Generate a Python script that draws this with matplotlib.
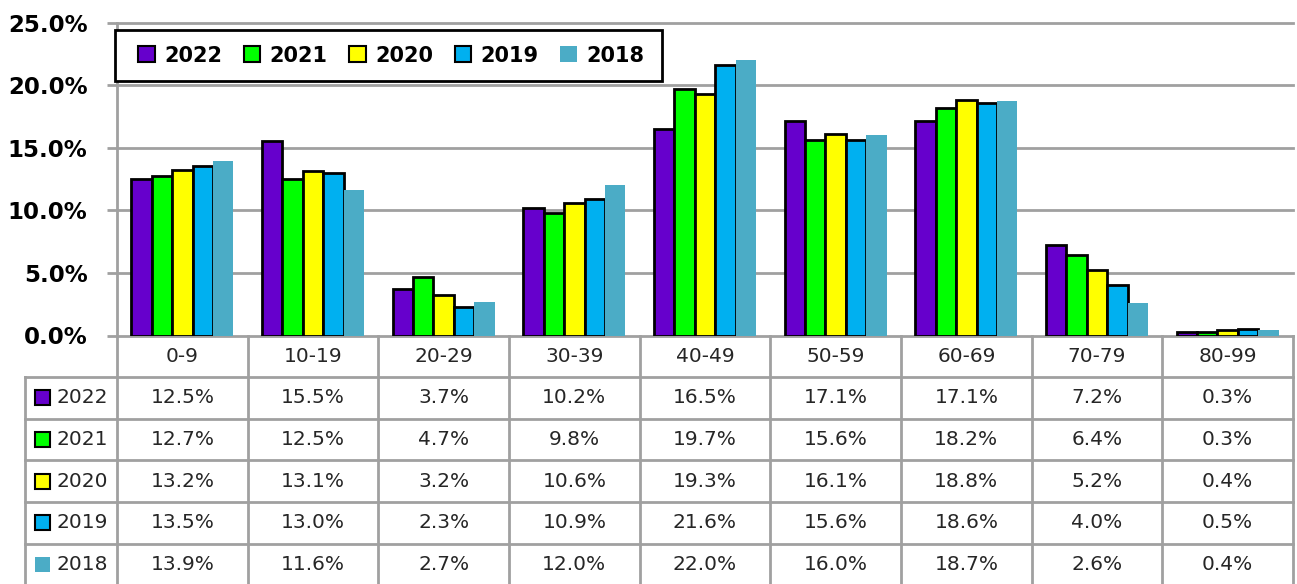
import matplotlib
matplotlib.use("Agg")
import matplotlib.pyplot as plt
from matplotlib.patches import Patch, Rectangle
from matplotlib.ticker import FuncFormatter
import numpy as np

# data (percent of cases by age group)
age_groups = ["0-9", "10-19", "20-29", "30-39", "40-49", "50-59", "60-69", "70-79", "80-99"]
years = ["2022", "2021", "2020", "2019", "2018"]
v2022 = [12.5, 15.5, 3.7, 10.2, 16.5, 17.1, 17.1, 7.2, 0.3]
v2021 = [12.7, 12.5, 4.7, 9.8, 19.7, 15.6, 18.2, 6.4, 0.3]
v2020 = [13.2, 13.1, 3.2, 10.6, 19.3, 16.1, 18.8, 5.2, 0.4]
v2019 = [13.5, 13.0, 2.3, 10.9, 21.6, 15.6, 18.6, 4.0, 0.5]
v2018 = [13.9, 11.6, 2.7, 12.0, 22.0, 16.0, 18.7, 2.6, 0.4]
series = [v2022, v2021, v2020, v2019, v2018]

colors = ["#6600CC", "#00FF00", "#FFFF00", "#00B0F0", "#4BACC6"]
edges = ["black", "black", "black", "black", "none"]
grid_col = "#A0A0A0"
txt_col = "#262626"

W, H = 1297, 584
fig = plt.figure(figsize=(W / 100, H / 100), dpi=100)


def px(l, t, r, b):
    return [l / W, 1 - b / H, (r - l) / W, (b - t) / H]


# ---- bar chart ----
ax = fig.add_axes(px(117, 22.5, 1293, 335.5))
n = len(age_groups)
x = np.arange(n) + 0.5
bw = 0.156
for i, (yr, vals) in enumerate(zip(years, series)):
    ax.bar(x + (i - 2) * bw, np.array(vals) / 100, width=bw, color=colors[i],
           edgecolor=edges[i], linewidth=2 if edges[i] != "none" else 0, zorder=3)

ax.set_xlim(0, n)
ax.set_ylim(0, 0.25)
ax.set_yticks(np.arange(0, 0.2501, 0.05))
ax.yaxis.set_major_formatter(FuncFormatter(lambda v, p: f"{v * 100:.1f}%"))
ax.set_xticks([])
ax.yaxis.grid(True, color=grid_col, linewidth=2)
for gl in ax.get_ygridlines():
    gl.set_clip_on(False)
ax.set_axisbelow(True)
for s in ["top", "right", "bottom"]:
    ax.spines[s].set_visible(False)
ax.spines["left"].set_color(grid_col)
ax.spines["left"].set_linewidth(2)
ax.tick_params(axis="y", length=7.2, width=2, color=grid_col, pad=14)
for lab in ax.get_yticklabels():
    lab.set_fontsize(16.5)
    lab.set_fontweight("bold")
    lab.set_color("black")

# legend: frame drawn separately so the padding matches the original
ax.add_patch(Rectangle((115 / W, 1 - 81 / H), (662 - 115) / W, 51 / H,
                       transform=fig.transFigure, facecolor="white", clip_on=False,
                       edgecolor="black", linewidth=2, zorder=6))
handles = [Patch(facecolor=c, edgecolor=e, linewidth=1.5 if e != "none" else 0)
           for c, e in zip(colors, edges)]
leg = ax.legend(handles, years, ncol=5, loc="center left",
                bbox_to_anchor=(138 / W, 1 - 55.5 / H), bbox_transform=fig.transFigure,
                borderaxespad=0, borderpad=0, frameon=False,
                prop={"size": 15, "weight": "bold"}, handlelength=0.8, handleheight=0.8,
                handletextpad=0.45, columnspacing=1.03)
leg.set_zorder(7)

# ---- data table ----
tax = fig.add_axes(px(25, 335.5, 1293, 584))
col_w = (1293 - 117) / n
row_h = 41.6
left = -(117 - 25) / col_w
tax.set_xlim(left, n)
tax.set_ylim((584 - 335.5) / row_h, 0)
tax.axis("off")

lk = dict(color=grid_col, linewidth=2, clip_on=False, solid_capstyle="projecting")
for k in range(n + 1):
    tax.plot([k, k], [0, 6], **lk)
tax.plot([left, left], [1, 6], **lk)
for r in range(1, 6):
    tax.plot([left, n], [r, r], **lk)

for j, g in enumerate(age_groups):
    tax.text(j + 0.5, 0.5, g, ha="center", va="center", fontsize=14.5, color=txt_col)

for i, (yr, vals) in enumerate(zip(years, series)):
    yc = i + 1.5
    sq_w = 15 / col_w
    sq_h = 15 / row_h
    tax.add_patch(Rectangle((left + 10 / col_w, yc - sq_h / 2), sq_w, sq_h,
                            facecolor=colors[i], edgecolor=edges[i],
                            linewidth=1.5 if edges[i] != "none" else 0))
    tax.text(left + 32 / col_w, yc, yr, ha="left", va="center", fontsize=14.5, color=txt_col)
    for j, v in enumerate(vals):
        tax.text(j + 0.5, yc, f"{v:.1f}%", ha="center", va="center",
                 fontsize=14.5, color=txt_col)

fig.savefig("out.png", dpi=100, facecolor="white")
